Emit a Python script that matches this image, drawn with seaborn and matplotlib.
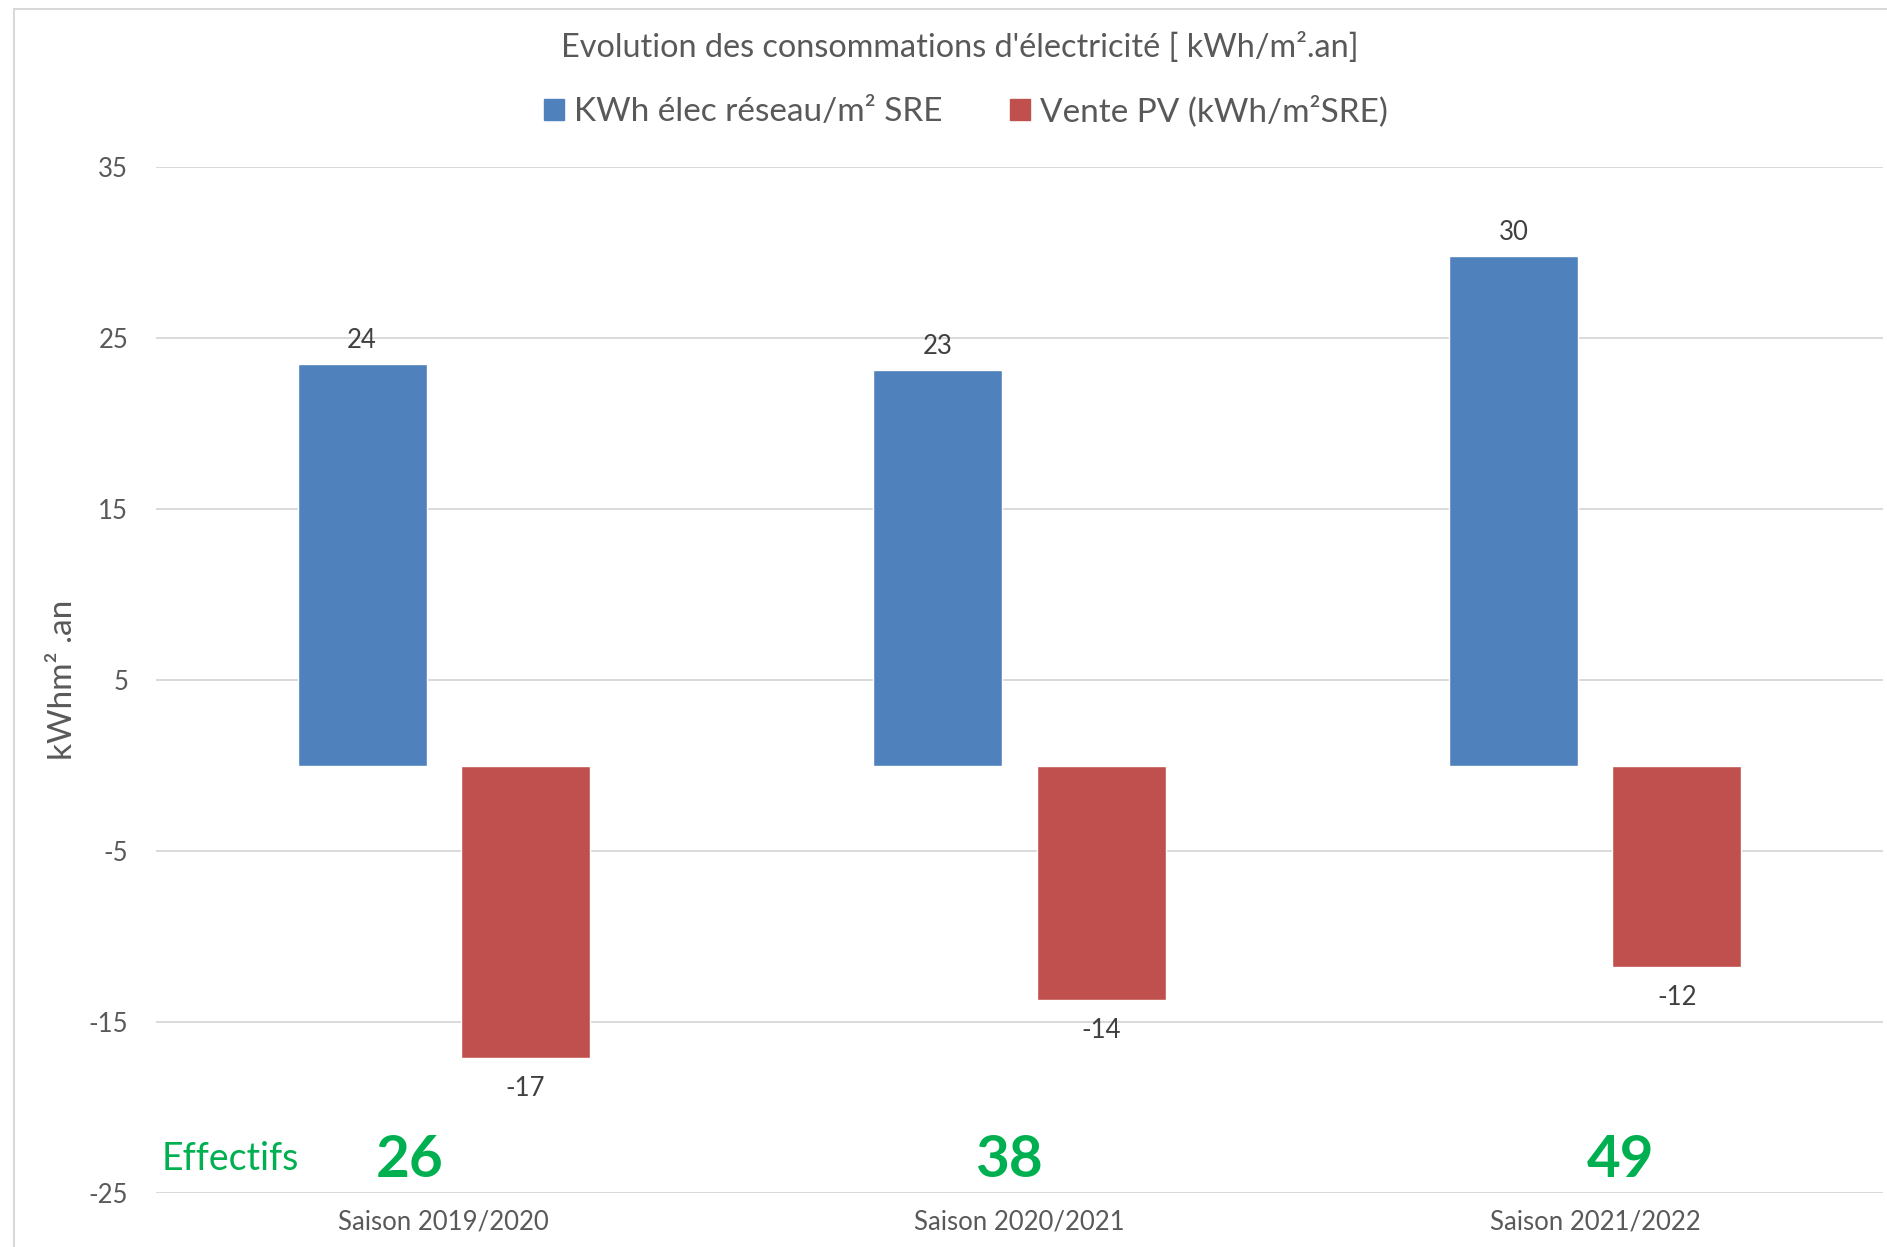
import matplotlib
matplotlib.use("Agg")
import matplotlib.pyplot as plt
from matplotlib.patches import Rectangle
import seaborn as sns
import pandas as pd

# Données
seasons = ["Saison 2019/2020", "Saison 2020/2021", "Saison 2021/2022"]
grid_kwh = [23.5, 23.1, 29.8]          # KWh élec réseau/m² SRE
pv_sales = [-17.1, -13.7, -11.8]       # Vente PV (kWh/m²SRE)
headcount = [26, 38, 49]               # Effectifs
series_names = ["KWh élec réseau/m² SRE", "Vente PV (kWh/m²SRE)"]
y_ticks = [35, 25, 15, 5, -5, -15, -25]

BLUE, RED, GREEN = "#4F81BD", "#C0504D", "#00B050"
GREY_TXT, DARK_TXT, GRID = "#595959", "#404040", "#D9D9D9"

sns.set_theme(style="white")
plt.rcParams["font.family"] = ["Lato", "DejaVu Sans"]
plt.rcParams["axes.unicode_minus"] = False

df = pd.DataFrame({
    "Saison": seasons * 2,
    "Série": [series_names[0]] * len(seasons) + [series_names[1]] * len(seasons),
    "Valeur": grid_kwh + pv_sales,
})

W, H = 1887, 1247
fig = plt.figure(figsize=(W / 100, H / 100), dpi=100)
fig.patch.set_facecolor("white")

ax = fig.add_axes([156 / W, 1 - 1193 / H, 1727 / W, (1193 - 167) / H])
sns.barplot(data=df, x="Saison", y="Valeur", hue="Série",
            palette=[BLUE, RED], saturation=1, width=0.568, gap=0.21,
            legend=False, ax=ax)

# Étiquettes de valeurs (au-dessus des barres positives, en dessous des négatives)
for cont, pad in zip(ax.containers, (8, 13)):
    ax.bar_label(cont, labels=[f"{v:.0f}" for v in cont.datavalues],
                 padding=pad, fontsize=18.5, color=DARK_TXT)

ax.set_ylim(-25, 35)
ax.set_xlim(-0.5, len(seasons) - 0.5)
ax.set_yticks(y_ticks)
ax.yaxis.grid(True, color=GRID, lw=1.4)
ax.set_axisbelow(True)
for s in ax.spines.values():
    s.set_visible(False)
ax.tick_params(axis="y", length=0, pad=20, labelsize=18.5, labelcolor=GREY_TXT)
ax.tick_params(axis="x", length=0, pad=12, labelsize=18.5, labelcolor=GREY_TXT)
ax.set_xlabel("")
ax.set_ylabel("kWhm² .an", fontsize=24, color=GREY_TXT, va="center")
ax.yaxis.set_label_coords(-0.054, 0.5)

# Effectifs
ax.text(-0.49, -23.67, "Effectifs", color=GREEN, fontsize=27,
        ha="left", va="baseline")
num_x = [-0.059, 0.981, 2.044]
for x, n in zip(num_x, headcount):
    ax.text(x, -24.07, str(n), color=GREEN, fontsize=42, fontweight="bold",
            ha="center", va="baseline")

# Titre et légende
fig.text(960 / W, 1 - 47 / H, "Evolution des consommations d'électricité [ kWh/m².an]",
         ha="center", va="center", fontsize=23.3, color=GREY_TXT)
handles = [Rectangle((0, 0), 1, 1, color=c) for c in (BLUE, RED)]
fig.legend(handles, series_names, loc="center", bbox_to_anchor=(966 / W, 1 - 111 / H),
           ncol=2, frameon=False, fontsize=24, handlelength=0.6, handleheight=0.6,
           handletextpad=0.3, columnspacing=2.0, labelcolor=GREY_TXT)

# Cadre
fig.add_artist(Rectangle((14 / W, -0.1), 1.2, 1 - 9 / H + 0.1, transform=fig.transFigure,
                         fill=False, ec=GRID, lw=1.5))

fig.savefig("out.png", dpi=100, facecolor="white")
